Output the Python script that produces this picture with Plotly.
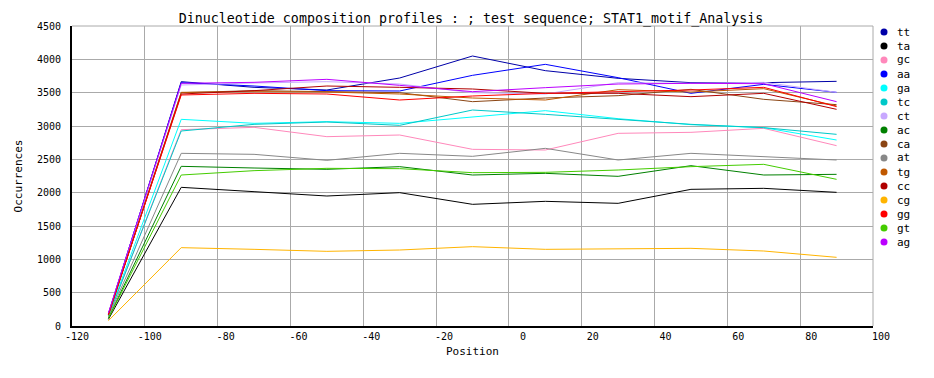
import plotly.graph_objects as go

positions = [-110, -90, -70, -50, -30, -10, 10, 30, 50, 70, 90]

names = ["tt", "ta", "gc", "aa", "ga", "tc", "ct", "ac", "ca", "at", "tg", "cc", "cg", "gg", "gt", "ag"]
colors = ["#0000A8", "#000000", "#FF88BB", "#0000FF", "#00FFFF", "#00C8C8", "#C8A8FF", "#008000",
          "#8B4513", "#888888", "#C05800", "#B00000", "#FFB400", "#FF0000", "#44CC00", "#BB00FF"]

tt = [180, 3665, 3580, 3540, 3720, 4050, 3830, 3715, 3650, 3650, 3670]
ta = [100, 2080, 2015, 1950, 2000, 1825, 1870, 1840, 2050, 2065, 2005]
gc = [150, 2945, 2980, 2840, 2865, 2650, 2640, 2890, 2905, 2965, 2705]
aa = [185, 3650, 3600, 3530, 3525, 3760, 3925, 3725, 3490, 3625, 3505]
ga = [160, 3100, 3040, 3065, 3040, 3140, 3230, 3110, 3020, 2975, 2790]
tc = [150, 2925, 3025, 3060, 3010, 3240, 3175, 3100, 3025, 2975, 2875]
ct = [185, 3615, 3645, 3665, 3630, 3500, 3480, 3650, 3640, 3655, 3505]
ac = [120, 2395, 2370, 2350, 2390, 2265, 2290, 2245, 2405, 2265, 2275]
ca = [170, 3500, 3530, 3515, 3500, 3365, 3420, 3455, 3550, 3400, 3320]
at = [140, 2590, 2575, 2485, 2590, 2545, 2665, 2490, 2590, 2535, 2490]
tg = [170, 3505, 3515, 3510, 3480, 3420, 3390, 3545, 3510, 3560, 3300]
cc = [170, 3480, 3530, 3600, 3580, 3555, 3490, 3490, 3440, 3490, 3250]
cg = [80, 1175, 1150, 1120, 1140, 1190, 1150, 1155, 1165, 1125, 1030]
gg = [175, 3465, 3490, 3480, 3390, 3450, 3490, 3510, 3540, 3580, 3290]
gt = [115, 2265, 2330, 2365, 2360, 2300, 2305, 2340, 2390, 2425, 2200]
ag = [195, 3640, 3655, 3700, 3610, 3515, 3575, 3630, 3640, 3635, 3365]

series = [tt, ta, gc, aa, ga, tc, ct, ac, ca, at, tg, cc, cg, gg, gt, ag]

x_ticks = [-120, -100, -80, -60, -40, -20, 0, 20, 40, 60, 80, 100]
y_ticks = [0, 500, 1000, 1500, 2000, 2500, 3000, 3500, 4000, 4500]

title_text = "Dinucleotide composition profiles : ; test sequence; STAT1_motif_Analysis"

FONT = "DejaVu Sans Mono"

fig = go.Figure()
for name, col, vals in zip(names, colors, series):
    fig.add_trace(go.Scatter(x=positions, y=vals, mode="lines", name=name,
                             line=dict(color=col, width=1), showlegend=False))

# page body has an 8px margin; compensate so the plot lands where the reference has it
OFF = 8
W, H = 934 - OFF, 378 - OFF
ml, mr, mt, mb = 72 - OFF, 61, 26 - OFF, 52

shapes = []
annotations = []
plot_w = W - ml - mr
plot_h = H - mt - mb
for i, (name, col) in enumerate(zip(names, colors)):
    ypx = 32 + i * 14 - OFF
    xm = 884 - OFF
    px = (xm - ml) / plot_w
    py = 1 - (ypx - mt) / plot_h
    dx = 3.5 / plot_w
    dy = 3.5 / plot_h
    shapes.append(dict(type="circle", xref="paper", yref="paper",
                       x0=px - dx, x1=px + dx, y0=py - dy, y1=py + dy,
                       fillcolor=col, line=dict(color=col, width=0)))
    annotations.append(dict(text=name, xref="paper", yref="paper",
                            x=(895 - OFF - ml) / plot_w, y=py, xanchor="left", yanchor="middle",
                            showarrow=False, font=dict(family=FONT, size=11, color="black")))

# x tick labels in the reference are right-aligned a little past the tick
x_ticktext = [str(v).rjust(4, "\u00a0") for v in x_ticks]

fig.update_layout(
    width=W, height=H,
    margin=dict(l=ml, r=mr, t=mt, b=mb, pad=0, autoexpand=False),
    paper_bgcolor="white", plot_bgcolor="white",
    title=dict(text=title_text, x=0.5, xanchor="center", y=1 - (18 - OFF) / H, yanchor="middle",
               font=dict(family=FONT, size=13.3, color="black")),
    xaxis=dict(range=[-120, 100], tickvals=x_ticks, ticktext=x_ticktext, ticklabelshift=5,
               showgrid=True, gridcolor="#AAAAAA", gridwidth=1,
               showline=True, linecolor="black", linewidth=2, mirror=False,
               zeroline=False, ticks="", tickfont=dict(family=FONT, size=10, color="black"),
               title=dict(text="Position", font=dict(family=FONT, size=11, color="black"), standoff=6)),
    yaxis=dict(range=[0, 4500], tickvals=y_ticks, ticktext=[str(v) for v in y_ticks],
               showgrid=True, gridcolor="#AAAAAA", gridwidth=1,
               showline=True, linecolor="black", linewidth=2,
               zeroline=False, ticks="", ticklabelstandoff=7,
               tickfont=dict(family=FONT, size=10, color="black"),
               title=dict(text="Occurrences", font=dict(family=FONT, size=11, color="black"), standoff=12)),
    shapes=shapes,
    annotations=annotations,
    showlegend=False,
)

fig.add_shape(type="line", xref="paper", yref="paper", x0=0, x1=1, y0=1, y1=1,
              line=dict(color="#AAAAAA", width=1), layer="below")
fig.add_shape(type="line", xref="paper", yref="paper", x0=1, x1=1, y0=0, y1=1,
              line=dict(color="#AAAAAA", width=1), layer="below")

fig.write_html("out.html")
